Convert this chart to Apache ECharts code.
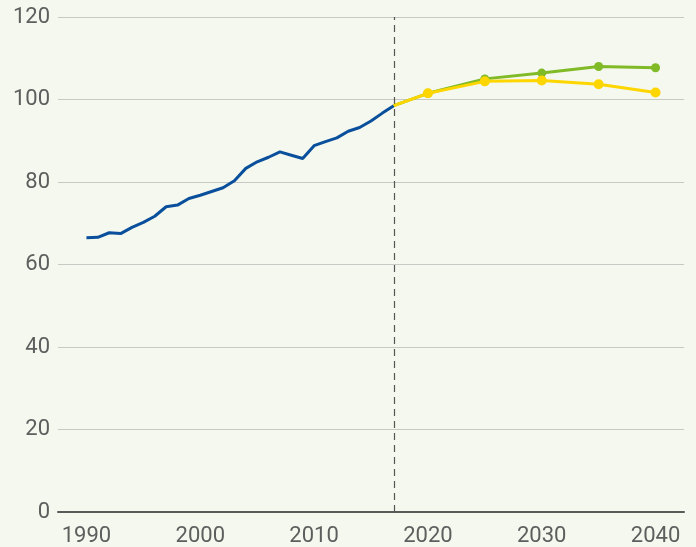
<!DOCTYPE html>
<html>
<head>
<meta charset="utf-8">
<script src="https://cdn.jsdelivr.net/npm/echarts@6/dist/echarts.min.js"></script>
<style>
  html, body { margin: 0; padding: 0; background: #f5f8ee; }
  #chart { width: 696px; height: 547px; }
</style>
</head>
<body>
<div id="chart"></div>
<script>
// historical years and values
const histYears = [1990, 1991, 1992, 1993, 1994, 1995, 1996, 1997, 1998, 1999,
    2000, 2001, 2002, 2003, 2004, 2005, 2006, 2007, 2008, 2009,
    2010, 2011, 2012, 2013, 2014, 2015, 2016, 2017]
const histValues = [66.5, 66.6, 67.7, 67.5, 69.0, 70.2, 71.7, 74.0, 74.4, 76.0,
    76.8, 77.7, 78.6, 80.3, 83.3, 84.9, 86.0, 87.3, 86.5, 85.7,
    88.8, 89.8, 90.7, 92.3, 93.2, 94.8, 96.7, 98.5]

// projections
const projYears = [2017, 2020, 2025, 2030, 2035, 2040]
const greenValues = [98.5, 101.5, 105.0, 106.4, 108.0, 107.7]
const yellowValues = [98.5, 101.5, 104.4, 104.6, 103.7, 101.7]

const splitYear = 2017
const yTicks = [0, 20, 40, 60, 80, 100, 120]

const font = 'Roboto, "Liberation Sans", sans-serif'

// first point of a projection has no marker
const pairs = (xs, ys) => xs.map((x, i) => i === 0 ? { value: [x, ys[i]], symbol: 'none' } : [x, ys[i]])

let myChart = echarts.init(document.getElementById('chart'))
const options = {
    backgroundColor: '#f5f8ee',
    animation: false,
    grid: { left: 58, right: 12, top: 17, bottom: 34 },
    xAxis: {
        type: 'value',
        min: 1987.5,
        max: 2042.5,
        interval: 2.5,
        axisLine: { show: true, lineStyle: { color: '#5a5a5a', width: 2 } },
        axisTick: { show: false },
        splitLine: { show: false },
        axisLabel: {
            color: '#5e5e5e',
            fontFamily: font,
            fontSize: 22,
            margin: 13,
            showMinLabel: false,
            showMaxLabel: false,
            formatter: v => (v % 10 === 0 ? String(v) : '')
        }
    },
    yAxis: {
        type: 'value',
        min: yTicks[0],
        max: yTicks[yTicks.length - 1],
        interval: 20,
        axisLine: { show: false },
        axisTick: { show: false },
        splitLine: { lineStyle: { color: '#c8c9c4', width: 1 } },
        axisLabel: { color: '#5e5e5e', fontFamily: font, fontSize: 22, margin: 8 }
    },
    series: [
        {
            name: 'history',
            type: 'line',
            data: histYears.map((y, i) => [y, histValues[i]]),
            showSymbol: false,
            lineStyle: { color: '#0a4f9c', width: 3 },
            itemStyle: { color: '#0a4f9c' },
            markLine: {
                silent: true,
                symbol: 'none',
                label: { show: false },
                lineStyle: { color: '#555', type: [7, 5], width: 1.2 },
                data: [{ xAxis: splitYear }]
            },
            z: 3
        },
        {
            name: 'green',
            type: 'line',
            data: pairs(projYears, greenValues),
            symbol: 'circle',
            symbolSize: 9,
            lineStyle: { color: '#80ba27', width: 3 },
            itemStyle: { color: '#80ba27' },
            z: 4
        },
        {
            name: 'yellow',
            type: 'line',
            data: pairs(projYears, yellowValues),
            symbol: 'circle',
            symbolSize: 10,
            lineStyle: { color: '#fdd600', width: 3 },
            itemStyle: { color: '#fdd600' },
            z: 5
        }
    ]
}
myChart.setOption(options)
</script>
</body>
</html>
